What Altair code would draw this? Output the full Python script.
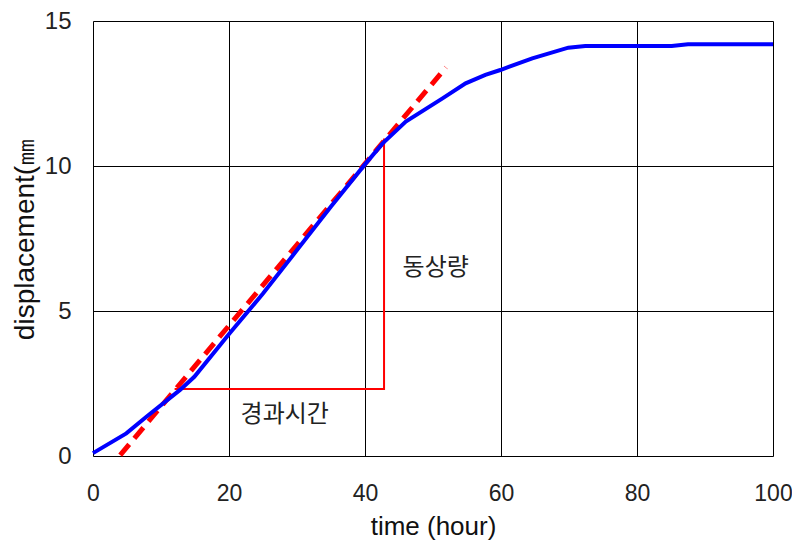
import altair as alt
import pandas as pd

# Measured displacement curve
time_h = [0, 4.9, 7.9, 12.8, 14.9, 20.1, 25.0, 30.0, 35.0, 39.9, 42.6, 46.0, 51.4, 54.8, 57.7, 59.9, 64.6, 69.9, 72.4, 85.1, 87.5, 100]
disp_mm = [0.1, 0.78, 1.36, 2.28, 2.73, 4.23, 5.6, 7.1, 8.6, 10.03, 10.78, 11.53, 12.33, 12.85, 13.14, 13.31, 13.71, 14.08, 14.14, 14.14, 14.2, 14.2]

# Tangent (red dashed) line
fit_x = [4.0, 51.9]
fit_y = [0.03, 13.4]

# Bracket: elapsed time / frost heave amount
bracket_x = [12.0, 42.8, 42.8]
bracket_y = [2.31, 2.31, 10.95]

# Labels
label_text = ["경과시간", "동상량"]
label_x = [28.2, 50.4]
label_y = [1.41, 6.48]

LATIN = "Liberation Sans"
KFONT = "Noto Sans CJK KR"

curve = pd.DataFrame({"t": time_h, "d": disp_mm})
fit = pd.DataFrame({"t": fit_x, "d": fit_y})
bracket = pd.DataFrame({"t": bracket_x, "d": bracket_y, "o": [0, 1, 2]})
labels = pd.DataFrame({"t": label_x, "d": label_y, "txt": label_text})

xs = alt.Scale(domain=[0, 100], nice=False, zero=False)
ys = alt.Scale(domain=[0, 15], nice=False, zero=False)

xax = alt.Axis(values=[0, 20, 40, 60, 80, 100], title="time (hour)", grid=True,
               gridColor="#000", gridOpacity=1, gridWidth=1, ticks=False, domain=False,
               labelFont=LATIN, labelFontSize=23, labelColor="#222", labelPadding=26,
               labelFlush=False, labelOverlap=False,
               titleFont=LATIN, titleFontSize=26, titleFontWeight="normal", titleColor="#111",
               titlePadding=8)
yax = alt.Axis(values=[0, 5, 10, 15], title="displacement(㎜", grid=True,
               gridColor="#000", gridOpacity=1, gridWidth=1, ticks=False, domain=False,
               labelFont=LATIN, labelFontSize=24, labelColor="#222", labelPadding=22,
               labelFlush=False, labelOverlap=False,
               titleFont=LATIN, titleFontSize=28, titleFontWeight="normal", titleColor="#111",
               titlePadding=5)

base_x = alt.X("t:Q", scale=xs, axis=xax)
base_y = alt.Y("d:Q", scale=ys, axis=yax)

line_curve = alt.Chart(curve).mark_line(color="#0000ff", strokeWidth=4).encode(x=base_x, y=base_y)
line_fit = alt.Chart(fit).mark_line(color="#ff0000", strokeWidth=5, strokeDash=[14, 8]).encode(
    x=alt.X("t:Q", scale=xs), y=alt.Y("d:Q", scale=ys))
line_bracket = alt.Chart(bracket).mark_line(color="#ff0000", strokeWidth=2).encode(
    x=alt.X("t:Q", scale=xs), y=alt.Y("d:Q", scale=ys), order="o:O")
text = alt.Chart(labels).mark_text(font=KFONT, fontSize=24, color="#222").encode(
    x=alt.X("t:Q", scale=xs), y=alt.Y("d:Q", scale=ys), text="txt:N")

chart = alt.layer(line_bracket, line_fit, line_curve, text).properties(
    width=680, height=435,
    autosize=alt.AutoSizeParams(type="none"),
    padding={"left": 85, "top": 13, "right": 19, "bottom": 87},
).configure_view(stroke="#000", strokeWidth=1.5).configure(background="white")

chart.save("out.html", embed_options={"renderer": "svg", "actions": False})
